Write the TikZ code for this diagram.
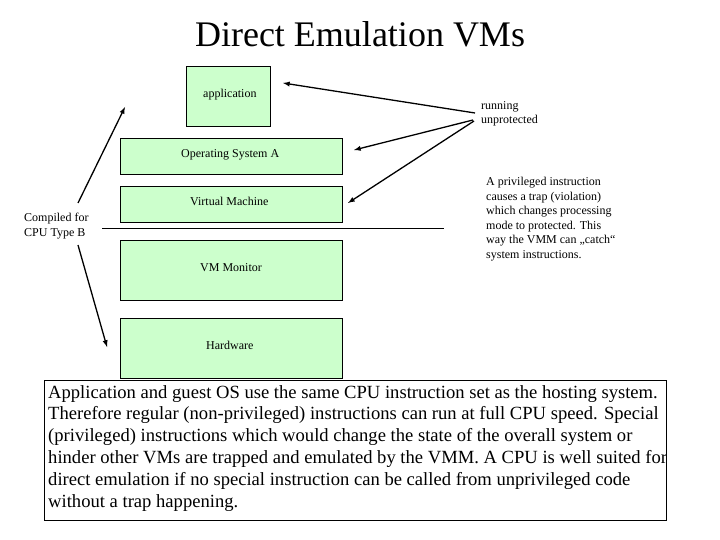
\documentclass[tikz,border=0pt]{standalone}
\usepackage{fontspec}
\setmainfont{Liberation Serif}
\begin{document}
\begin{tikzpicture}[x=1pt,y=-1pt,
  layer/.style={draw=black,fill={rgb,255:red,204;green,255;blue,204},inner sep=0pt,anchor=north west},
  lbl/.style={font=\fontsize{12}{14.5}\selectfont,align=left,anchor=north west,inner sep=0pt},
  arr/.style={->,>=latex,line width=1.3pt}]
\useasboundingbox (0,0) rectangle (720,540);
\node[font=\fontsize{36}{40}\selectfont] (title) at (360,34) {Direct Emulation VMs};
\node[layer,minimum width=84pt,minimum height=60pt] (app) at (186,66) {};
\node[lbl] at (203,89) {application};
\node[layer,minimum width=222pt,minimum height=36pt] (os) at (120,138) {};
\node[lbl] at (181,149) {Operating System A};
\node[layer,minimum width=222pt,minimum height=36pt] (vm) at (120,186) {};
\node[lbl] at (190,197) {Virtual Machine};
\coordinate (l1) at (102,228); \coordinate (l2) at (444,228);
\draw (l1) -- (l2);
\node[layer,minimum width=222pt,minimum height=60pt] (vmm) at (120,240) {};
\node[lbl] at (200,263) {VM Monitor};
\node[layer,minimum width=222pt,minimum height=60pt] (hw) at (120,318) {};
\node[lbl] at (206,341) {Hardware};
\node[lbl] (run) at (481,101) {running\\unprotected};
\node[lbl] (comp) at (24,213) {Compiled for\\CPU Type B};
\node[lbl] (priv) at (486,177) {A privileged instruction\\causes a trap (violation)\\which changes processing\\mode to protected. This\\way the VMM can „catch“\\system instructions.};
\coordinate (r1) at (475,113); \coordinate (t1) at (283,83);
\coordinate (r2) at (473,120); \coordinate (t2) at (354,150);
\coordinate (r3) at (474,121); \coordinate (t3) at (348,203);
\coordinate (c1) at (78,203); \coordinate (u1) at (125,107);
\coordinate (c2) at (78,245); \coordinate (u2) at (107,347);
\draw[arr] (r1) -- (t1);
\draw[arr] (r2) -- (t2);
\draw[arr] (r3) -- (t3);
\draw[arr] (c1) -- (u1);
\draw[arr] (c2) -- (u2);
\node[draw=black,line width=0.8pt,anchor=north west,minimum width=622pt,minimum height=140pt,inner sep=0pt] (box) at (44,380) {};
\node[anchor=north west,inner sep=0pt,align=left,font=\fontsize{18.6}{21.8}\selectfont] (txt) at (48,385) {Application and guest OS use the same CPU instruction set as the hosting system.\\Therefore regular (non-privileged) instructions can run at full CPU speed. Special\\(privileged) instructions which would change the state of the overall system or\\hinder other VMs are trapped and emulated by the VMM. A CPU is well suited for\\direct emulation if no special instruction can be called from unprivileged code\\without a trap happening.};
\end{tikzpicture}
\end{document}
